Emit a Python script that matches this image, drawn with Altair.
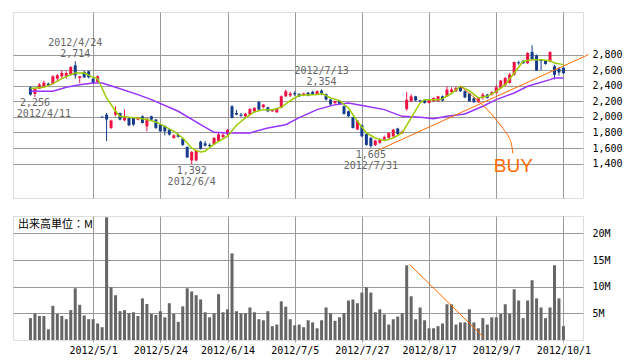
import altair as alt
import pandas as pd

dates = [
    "2012/4/10", "2012/4/11", "2012/4/12", "2012/4/13", "2012/4/16", "2012/4/17", "2012/4/18", "2012/4/19",
    "2012/4/20", "2012/4/23", "2012/4/24", "2012/4/25", "2012/4/26", "2012/4/27",
    "2012/5/1", "2012/5/2", "2012/5/7", "2012/5/8", "2012/5/9", "2012/5/10", "2012/5/11", "2012/5/14",
    "2012/5/15", "2012/5/16", "2012/5/17", "2012/5/18", "2012/5/21", "2012/5/22", "2012/5/23", "2012/5/24",
    "2012/5/25", "2012/5/28", "2012/5/29", "2012/5/30", "2012/5/31",
    "2012/6/1", "2012/6/4", "2012/6/5", "2012/6/6", "2012/6/7", "2012/6/8", "2012/6/11", "2012/6/12",
    "2012/6/13", "2012/6/14", "2012/6/15", "2012/6/18", "2012/6/19", "2012/6/20", "2012/6/21", "2012/6/22",
    "2012/6/25", "2012/6/26", "2012/6/27", "2012/6/28", "2012/6/29",
    "2012/7/2", "2012/7/3", "2012/7/4", "2012/7/5", "2012/7/6", "2012/7/9", "2012/7/10", "2012/7/11",
    "2012/7/12", "2012/7/13", "2012/7/17", "2012/7/18", "2012/7/19", "2012/7/20", "2012/7/23", "2012/7/24",
    "2012/7/25", "2012/7/26", "2012/7/27", "2012/7/30", "2012/7/31",
    "2012/8/1", "2012/8/2", "2012/8/3", "2012/8/6", "2012/8/7", "2012/8/8", "2012/8/9", "2012/8/10",
    "2012/8/13", "2012/8/14", "2012/8/15", "2012/8/16", "2012/8/17", "2012/8/20", "2012/8/21", "2012/8/22",
    "2012/8/23", "2012/8/24", "2012/8/27", "2012/8/28", "2012/8/29", "2012/8/30", "2012/8/31",
    "2012/9/3", "2012/9/4", "2012/9/5", "2012/9/6", "2012/9/7", "2012/9/10", "2012/9/11", "2012/9/12",
    "2012/9/13", "2012/9/14", "2012/9/18", "2012/9/19", "2012/9/20", "2012/9/21", "2012/9/24", "2012/9/25",
    "2012/9/26", "2012/9/27", "2012/9/28",
    "2012/10/1",
]

opens = [2380, 2294, 2363, 2388, 2427, 2423, 2491, 2521, 2521, 2542, 2662, 2500, 2577, 2585, 2491, 2448,
         2003, 2029, 1858, 2029, 2050, 1956, 1986, 1986, 1965, 2007, 1879, 2007, 1965, 1900, 1879, 1836,
         1729, 1772, 1720, 1615, 1440, 1440, 1680, 1660, 1640, 1650, 1690, 1740, 1775, 2136, 2050, 2029,
         2007, 2029, 2072, 2192, 2125, 2123, 2072, 2060, 2115, 2265, 2275, 2305, 2295, 2280, 2310, 2320,
         2295, 2337, 2290, 2222, 2175, 2209, 2137, 2072, 1995, 1837, 1893, 1781, 1730, 1636, 1666, 1710,
         1730, 1750, 1850, 1790, 2100, 2200, 2264, 2212, 2221, 2179, 2200, 2200, 2264, 2264, 2320, 2330,
         2380, 2330, 2300, 2240, 2190, 2252, 2286, 2286, 2307, 2371, 2406, 2436, 2543, 2700, 2720, 2690,
         2834, 2791, 2730, 2720, 2714, 2650, 2620, 2630]
highs = [2393, 2370, 2435, 2465, 2440, 2534, 2551, 2598, 2585, 2650, 2714, 2525, 2590, 2590, 2500, 2534,
         2006, 2050, 1965, 2136, 2055, 2093, 1998, 1995, 2000, 2020, 1986, 2015, 1975, 1910, 1892, 1850,
         1775, 1785, 1730, 1620, 1560, 1575, 1695, 1690, 1660, 1740, 1800, 1790, 1845, 2150, 2090, 2050,
         2050, 2114, 2125, 2200, 2165, 2130, 2100, 2110, 2275, 2350, 2320, 2330, 2305, 2310, 2320, 2335,
         2340, 2354, 2300, 2230, 2210, 2215, 2145, 2080, 2000, 1960, 1900, 1790, 1740, 1705, 1720, 1760,
         1800, 1845, 1860, 1825, 2320, 2290, 2270, 2220, 2230, 2230, 2250, 2270, 2275, 2390, 2380, 2385,
         2393, 2340, 2310, 2250, 2250, 2307, 2295, 2330, 2405, 2475, 2510, 2565, 2710, 2720, 2735, 2830,
         2919, 2800, 2740, 2730, 2840, 2670, 2640, 2640]
lows = [2273, 2256, 2358, 2380, 2400, 2414, 2457, 2500, 2491, 2534, 2491, 2436, 2500, 2495, 2430, 2440,
        1990, 1690, 1845, 2007, 1955, 1943, 1880, 1885, 1955, 1915, 1815, 1960, 1845, 1805, 1763, 1760,
        1720, 1735, 1625, 1470, 1392, 1430, 1580, 1620, 1610, 1640, 1680, 1720, 1765, 1980, 2020, 2000,
        2000, 2020, 2060, 2085, 2110, 2060, 2065, 2050, 2110, 2255, 2255, 2270, 2255, 2270, 2265, 2280,
        2285, 2280, 2210, 2140, 2170, 2160, 2030, 1995, 1850, 1830, 1740, 1630, 1605, 1625, 1655, 1700,
        1720, 1740, 1770, 1780, 2080, 2190, 2200, 2190, 2170, 2170, 2190, 2195, 2200, 2255, 2310, 2320,
        2320, 2240, 2190, 2180, 2180, 2222, 2235, 2275, 2300, 2360, 2400, 2430, 2530, 2670, 2680, 2680,
        2730, 2590, 2600, 2670, 2700, 2480, 2530, 2550]
closes = [2286, 2363, 2414, 2440, 2406, 2521, 2534, 2564, 2564, 2641, 2534, 2521, 2508, 2508, 2436, 2521,
          1992, 1965, 1952, 2072, 1965, 2007, 1892, 1900, 1995, 1922, 1977, 1965, 1858, 1815, 1815, 1772,
          1763, 1745, 1640, 1480, 1550, 1570, 1590, 1630, 1625, 1730, 1775, 1770, 1830, 1986, 2029, 2015,
          2040, 2100, 2115, 2093, 2157, 2072, 2093, 2100, 2265, 2329, 2300, 2290, 2265, 2300, 2275, 2290,
          2330, 2290, 2222, 2160, 2200, 2167, 2038, 2008, 1858, 1953, 1751, 1640, 1625, 1696, 1709, 1740,
          1795, 1835, 1780, 1810, 2220, 2264, 2210, 2200, 2179, 2221, 2243, 2264, 2210, 2350, 2350, 2370,
          2330, 2250, 2200, 2190, 2240, 2286, 2243, 2316, 2380, 2466, 2500, 2543, 2705, 2688, 2690, 2820,
          2740, 2594, 2715, 2680, 2834, 2540, 2570, 2560]

volumes = [4.1, 5.0, 4.5, 4.5, 2.0, 6.4, 4.9, 4.5, 3.9, 5.6, 9.7, 6.6, 4.6, 3.9, 3.9, 3.1,
           2.4, 23.0, 9.9, 8.4, 5.4, 5.6, 5.0, 5.2, 4.5, 7.8, 6.75, 4.9, 4.7, 5.4, 4.25, 6.9,
           4.9, 3.4, 6.3, 9.7, 9.1, 8.4, 7.6, 5.2, 4.25, 5.0, 8.6, 5.2, 5.75, 16.25, 5.4, 5.0,
           5.0, 6.1, 5.2, 3.9, 3.7, 5.4, 2.6, 2.9, 7.25, 6.25, 3.9, 2.75, 2.9, 2.4, 3.7, 3.3,
           2.2, 3.7, 6.1, 5.0, 3.6, 4.25, 5.0, 7.4, 7.6, 6.9, 8.9, 9.9, 8.9, 5.2, 5.75, 4.8,
           2.9, 3.9, 4.4, 5.0, 14.0, 8.2, 3.9, 6.1, 3.7, 2.2, 2.2, 2.6, 3.1, 6.7, 6.7, 2.9,
           3.3, 3.3, 5.75, 3.3, 2.2, 4.1, 2.9, 4.25, 4.25, 4.9, 6.7, 4.9, 9.5, 7.4, 4.1, 7.4,
           11.2, 7.8, 6.1, 4.1, 6.1, 14.0, 7.8, 2.6]

# short moving average (green), read at sample points
ma_short_idx = [0, 3, 5, 7, 9, 10, 12, 14, 15, 17, 19, 20, 22, 24, 26, 28, 30, 32, 34, 36, 37, 38, 39, 40,
                42, 44, 46, 48, 50, 52, 54, 56, 58, 60, 62, 64, 65, 66, 67, 69, 71, 73, 75, 77, 79, 81,
                83, 85, 87, 88, 91, 92, 94, 96, 98, 100, 102, 104, 106, 108, 110, 112, 114, 116, 117, 119]
ma_short_val = [2363, 2380, 2423, 2491, 2542, 2564, 2564, 2508, 2491, 2243, 2072, 2007, 1995, 1986, 1965,
                1935, 1879, 1815, 1729, 1601, 1566, 1549, 1558, 1609, 1686, 1751, 1892, 1986, 2063, 2093,
                2093, 2123, 2209, 2277, 2282, 2286, 2299, 2273, 2243, 2209, 2114, 1943, 1793, 1729, 1695,
                1729, 1793, 1986, 2179, 2221, 2221, 2234, 2300, 2393, 2337, 2243, 2264, 2328, 2414, 2564,
                2714, 2735, 2735, 2722, 2692, 2671]

# long moving average (purple)
ma_long_idx = [0, 5, 8, 11, 14, 16, 19, 24, 27, 33, 38, 41, 44, 49, 53, 57, 60, 64, 68, 71, 75, 79, 83,
               87, 90, 93, 97, 101, 104, 108, 111, 116, 117, 119]
ma_long_val = [2328, 2330, 2380, 2414, 2435, 2435, 2380, 2286, 2221, 2072, 1900, 1802, 1793, 1793, 1858,
               1900, 1990, 2093, 2157, 2179, 2136, 2093, 2007, 1995, 1977, 2007, 2037, 2136, 2221, 2307,
               2393, 2478, 2500, 2500]

# hand-drawn orange annotations (index, value)
trend_idx = [77.1, 124.6]
trend_val = [1558, 2800]
buy_curve_idx = [96, 105.5, 106.8, 107.4, 107.7]
buy_curve_val = [2393, 1850, 1740, 1650, 1530]
vol_trend_idx = [84.6, 101.2]
vol_trend_val = [14.2, 0.5]
buy_text = ["BUY"]
buy_idx = [107.8]
buy_val = [1366]

# annotated highs / lows
hi_idx = [10, 65]
hi_val = [2714, 2354]
lo_idx = [36, 76]
lo_val = [1392, 1605]
first_lo_idx = [1]
first_lo_val = [2256]

price_ticks = [1400, 1600, 1800, 2000, 2200, 2400, 2600, 2800]
vol_ticks = [5, 10, 15, 20]
x_tick_idx = [14, 29, 44, 59, 74, 89, 104, 119]

RED = "#ee1144"
BLUE = "#153c8c"
GRID = "#999999"
ORANGE = "#ff6a00"
MONO = "DejaVu Sans Mono"

n = len(dates)
candles = pd.DataFrame({
    "idx": list(range(n)), "date": dates, "open": opens, "high": highs,
    "low": lows, "close": closes, "volume": volumes,
})
candles["dir"] = ["up" if c >= o else "down" for o, c in zip(opens, closes)]

ma_s = pd.DataFrame({"idx": ma_short_idx, "val": ma_short_val})
ma_l = pd.DataFrame({"idx": ma_long_idx, "val": ma_long_val})
trend = pd.DataFrame({"idx": trend_idx, "val": trend_val})
buyc = pd.DataFrame({"idx": buy_curve_idx, "val": buy_curve_val, "o": list(range(len(buy_curve_idx)))})
vtrend = pd.DataFrame({"idx": vol_trend_idx, "val": vol_trend_val})
buy_df = pd.DataFrame({"t": buy_text, "idx": buy_idx, "val": buy_val})
hi_df = pd.DataFrame({"idx": hi_idx, "val": hi_val, "date": [dates[i] for i in hi_idx]})
lo_df = pd.DataFrame({"idx": lo_idx, "val": lo_val, "date": [dates[i] for i in lo_idx]})
flo_df = pd.DataFrame({"idx": first_lo_idx, "val": first_lo_val, "date": [dates[i] for i in first_lo_idx]})

W = 570
H_TOP = 186
H_VOL = 124
x_dom = [-2.78, 122.25]
p_dom = [958, 3347]
v_dom = [0, 23.25]

label_arr = "[" + ",".join("'" + dates[i] + "'" for i in x_tick_idx) + "]"
label_expr = label_arr + "[(datum.value-%d)/%d]" % (x_tick_idx[0], x_tick_idx[1] - x_tick_idx[0])

xs = alt.Scale(domain=x_dom, nice=False, zero=False)
ps = alt.Scale(domain=p_dom, nice=False, zero=False)
vs = alt.Scale(domain=v_dom, nice=False, zero=False)

x_top_axis = alt.Axis(values=x_tick_idx, labels=False, ticks=False, tickSize=0, domain=False,
                      grid=True, gridColor=GRID, gridOpacity=1)
p_axis = alt.Axis(orient="right", values=price_ticks, format=",d", tickSize=0, ticks=False,
                  labelPadding=9, domain=False, grid=True, gridColor=GRID, gridOpacity=1,
                  labelOverlap=False, labelFont=MONO, labelFontSize=10, labelColor="#000")
x_bot_axis = alt.Axis(values=x_tick_idx, labelExpr=label_expr, ticks=True, tickSize=2, tickColor=GRID,
                      domain=False, grid=True, gridColor=GRID, gridOpacity=1, labelPadding=3,
                      labelOverlap=False, labelFont=MONO, labelFontSize=10, labelColor="#000")
v_axis = alt.Axis(orient="right", values=vol_ticks, labelExpr="datum.value + 'M'", tickSize=0,
                  ticks=False, labelPadding=9, domain=False, grid=True, gridColor=GRID,
                  gridOpacity=1, labelOverlap=False, labelFont=MONO, labelFontSize=10, labelColor="#000")


def XT(f="idx"):
    return alt.X(f + ":Q", scale=xs, title=None, axis=x_top_axis)


def YP(f):
    return alt.Y(f + ":Q", scale=ps, title=None, axis=p_axis)


def XB(f="idx"):
    return alt.X(f + ":Q", scale=xs, title=None, axis=x_bot_axis)


def YV(f):
    return alt.Y(f + ":Q", scale=vs, title=None, axis=v_axis)


color = alt.Color("dir:N", scale=alt.Scale(domain=["up", "down"], range=[RED, BLUE]), legend=None)

wick = alt.Chart(candles).mark_rule(strokeWidth=1).encode(
    x=XT(), y=YP("low"), y2="high:Q", color=color)
body = alt.Chart(candles).mark_bar(size=3).encode(
    x=XT(), y=YP("open"), y2="close:Q", color=color)
line_l = alt.Chart(ma_l).mark_line(color="#9933ff", strokeWidth=1.5).encode(
    x=XT(), y=YP("val"))
line_s = alt.Chart(ma_s).mark_line(color="#99cc00", strokeWidth=1.5).encode(
    x=XT(), y=YP("val"))
tr = alt.Chart(trend).mark_line(color=ORANGE, strokeWidth=1).encode(
    x=XT(), y=YP("val"))
bc = alt.Chart(buyc).mark_line(color=ORANGE, strokeWidth=1, interpolate="monotone").encode(
    x=XT(), y=YP("val"), order="o:Q")
buy = alt.Chart(buy_df).mark_text(color=ORANGE, font="Liberation Sans", fontSize=19,
                                  baseline="middle", align="center").encode(
    x=XT(), y=YP("val"), text="t:N")


def ann(df, field, dy, dx=0, fmt=None):
    txt = alt.Text(field + ":Q", format=fmt) if fmt else alt.Text(field + ":N")
    return alt.Chart(df).mark_text(font=MONO, fontSize=10, color="#666666", dy=dy, dx=dx,
                                   baseline="middle", align="center").encode(
        x=XT(), y=YP("val"), text=txt)


anns = [
    ann(hi_df, "date", -18), ann(hi_df, "val", -7, fmt=",d"),
    ann(lo_df, "val", 7, fmt=",d"), ann(lo_df, "date", 18),
    ann(flo_df, "val", 6, fmt=",d"), ann(flo_df, "date", 17, dx=9),
]

top = alt.layer(wick, body, line_l, line_s, tr, bc, buy, *anns).properties(width=W, height=H_TOP)

vbars = alt.Chart(candles).mark_bar(size=3, color="#666666").encode(x=XB(), y=YV("volume"))
vt = alt.Chart(vtrend).mark_line(color=ORANGE, strokeWidth=1).encode(x=XB(), y=YV("val"))
unit = alt.Chart(pd.DataFrame({"t": ["出来高単位：M"]})).mark_text(
    font="Noto Sans CJK JP", fontSize=11, color="#000", align="left", baseline="middle").encode(
    x=alt.value(5), y=alt.value(9), text="t:N")

bottom = alt.layer(vbars, vt, unit).properties(width=W, height=H_VOL)

chart = alt.vconcat(top, bottom, spacing=16).properties(
    padding={"left": 4, "top": 3, "right": 5, "bottom": 5}
).configure_view(stroke=GRID, strokeWidth=1).configure(background="white")

chart.save("out.html", embed_options={"renderer": "svg", "actions": False})
